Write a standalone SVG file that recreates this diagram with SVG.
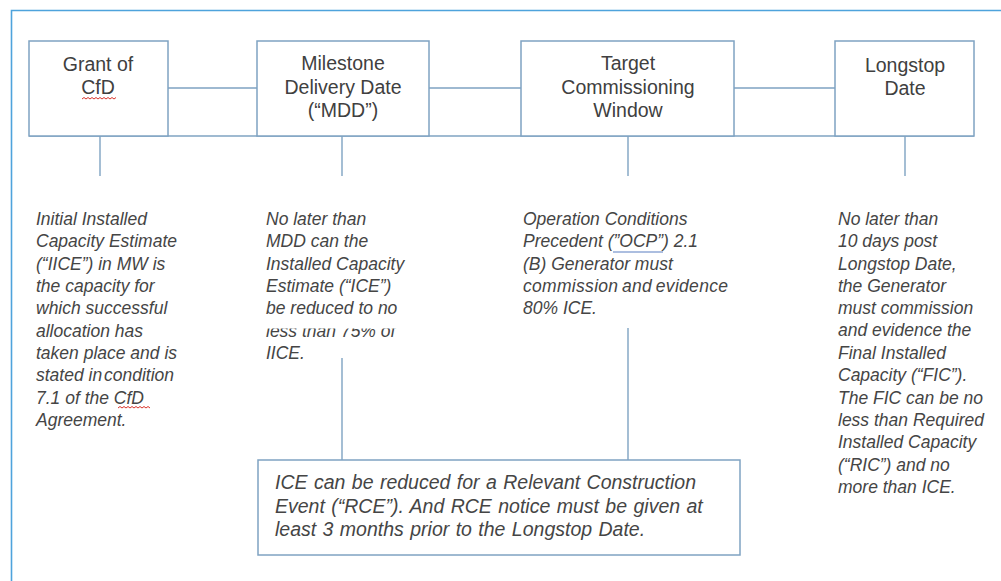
<svg xmlns="http://www.w3.org/2000/svg" width="1001" height="581" viewBox="0 0 1001 581">
  <style>
    .frame { fill: none; stroke: #4ea3dc; stroke-width: 1.6; }
    .box { fill: #ffffff; stroke: #7fa3c2; stroke-width: 1.5; }
    .link { fill: none; stroke: #7fa3c2; stroke-width: 1.4; }
    .head { font-family: "Liberation Sans", Arial, sans-serif; font-size: 19.5px; fill: #404040; text-anchor: middle; }
    .note { font-family: "Liberation Sans", Arial, sans-serif; font-size: 17.5px; font-style: italic; fill: #454545; }
    .wide { font-size: 19.5px; word-spacing: 1px; }
    .spell { fill: none; stroke: #d9342b; stroke-width: 1; }
    .gram { fill: none; stroke: #5b7fc2; stroke-width: 1.2; }
  </style>
  <defs>
    <clipPath id="cutTop">
      <rect x="250" y="328.5" width="200" height="40"/>
    </clipPath>
  </defs>

  <rect width="1001" height="581" fill="#ffffff"/>

  <!-- outer frame: only the top and left edges are visible -->
  <path class="frame" d="M11.5 581 V10.5 H1001"/>

  <!-- connectors -->
  <g id="connectors">
    <!-- timeline base and links between milestone boxes -->
    <path class="link" d="M29 136 H974"/>
    <path class="link" d="M168 88 H257 M429 88 H521 M734 88 H835"/>
    <!-- drop ticks under each box -->
    <path class="link" d="M100 136 V176 M342 136 V176 M628 136 V176 M905 136 V176"/>
    <!-- leads into the RCE note -->
    <path class="link" d="M342 358 V460 M628 328 V460"/>
  </g>

  <g id="grant">
    <rect class="box" x="29" y="41" width="139" height="95"/>
    <text class="head" x="98" y="71">Grant of</text>
    <text class="head" x="98" y="94">CfD</text>
    <path class="spell" d="M82 99 l2 -1.5 l2 1.5 l2 -1.5 l2 1.5 l2 -1.5 l2 1.5 l2 -1.5 l2 1.5 l2 -1.5 l2 1.5 l2 -1.5 l2 1.5 l2 -1.5 l2 1.5 l2 -1.5 l2 1.5 l2 -1.5"/>
  </g>

  <g id="mdd">
    <rect class="box" x="257" y="41" width="172" height="95"/>
    <text class="head" x="343" y="70">Milestone</text>
    <text class="head" x="343" y="94">Delivery Date</text>
    <text class="head" x="343" y="117">(“MDD”)</text>
  </g>

  <g id="tcw">
    <rect class="box" x="521" y="41" width="213" height="95"/>
    <text class="head" x="628" y="70">Target</text>
    <text class="head" x="628" y="94">Commissioning</text>
    <text class="head" x="628" y="117">Window</text>
  </g>

  <g id="longstop">
    <rect class="box" x="835" y="41" width="139" height="95"/>
    <text class="head" x="905" y="72">Longstop</text>
    <text class="head" x="905" y="95">Date</text>
  </g>

  <g id="iice-note">
    <text class="note" x="36" y="225">Initial Installed</text>
    <text class="note" x="36" y="247">Capacity Estimate</text>
    <text class="note" x="36" y="270">(“IICE”) in MW is</text>
    <text class="note" x="36" y="292">the capacity for</text>
    <text class="note" x="36" y="314">which successful</text>
    <text class="note" x="36" y="337">allocation has</text>
    <text class="note" x="36" y="359">taken place and is</text>
    <text class="note" x="36" y="381">stated in<tspan dx="-3"> condition</tspan></text>
    <text class="note" x="36" y="404">7.1 of the CfD</text>
    <path class="spell" d="M118 408 l2 -1.5 l2 1.5 l2 -1.5 l2 1.5 l2 -1.5 l2 1.5 l2 -1.5 l2 1.5 l2 -1.5 l2 1.5 l2 -1.5 l2 1.5 l2 -1.5 l2 1.5 l2 -1.5 l2 1.5"/>
    <text class="note" x="36" y="426">Agreement.</text>
  </g>

  <g id="mdd-note">
    <text class="note" x="266" y="225">No later than</text>
    <text class="note" x="266" y="247">MDD can the</text>
    <text class="note" x="266" y="270">Installed Capacity</text>
    <text class="note" x="266" y="292">Estimate (“ICE”)</text>
    <text class="note" x="266" y="314">be reduced to no</text>
    <text class="note" x="266" y="337" clip-path="url(#cutTop)">less than 75% of</text>
    <text class="note" x="266" y="359">IICE.</text>
  </g>

  <g id="ocp-note">
    <text class="note" x="523" y="225">Operation Conditions</text>
    <text class="note" x="523" y="247">Precedent (”OCP”) 2.1</text>
    <path class="gram" d="M613 252 H663"/>
    <text class="note" x="523" y="270">(B) Generator must</text>
    <text class="note" x="523" y="292" word-spacing="-1.5" letter-spacing="0.3">commission and evidence</text>
    <text class="note" x="523" y="314">80% ICE.</text>
  </g>

  <g id="fic-note">
    <text class="note" x="838" y="225">No later than</text>
    <text class="note" x="838" y="247">10 days post</text>
    <text class="note" x="838" y="270">Longstop Date,</text>
    <text class="note" x="838" y="292">the Generator</text>
    <text class="note" x="838" y="314">must commission</text>
    <text class="note" x="838" y="336">and evidence the</text>
    <text class="note" x="838" y="359">Final Installed</text>
    <text class="note" x="838" y="381">Capacity (“FIC”).</text>
    <text class="note" x="838" y="404">The FIC can be no</text>
    <text class="note" x="838" y="426">less than Required</text>
    <text class="note" x="838" y="448">Installed Capacity</text>
    <text class="note" x="838" y="471">(“RIC”) and no</text>
    <text class="note" x="838" y="493">more than ICE.</text>
  </g>

  <g id="rce-note">
    <rect class="box" x="258" y="460" width="482" height="95"/>
    <text class="note wide" x="275" y="489">ICE can be reduced for a Relevant Construction</text>
    <text class="note wide" x="275" y="513">Event (“RCE”). And RCE notice must be given at</text>
    <text class="note wide" x="275" y="536">least 3 months prior to the Longstop Date.</text>
  </g>
</svg>
